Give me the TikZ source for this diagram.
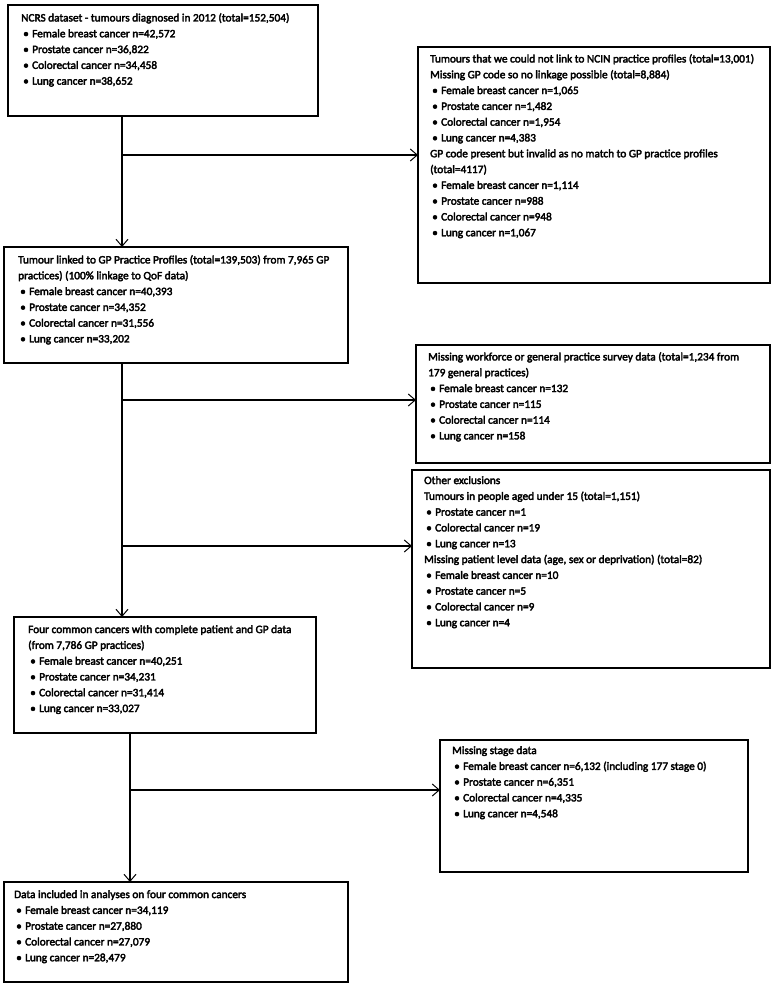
\documentclass[tikz,border=0pt]{standalone}
\usepackage{fontspec}
\setmainfont{Carlito}[FakeBold=3]
\usetikzlibrary{arrows.meta,calc}
\newcommand\bl{\hspace*{2pt}\makebox[9pt][l]{\textbullet}}
\begin{document}
\begin{tikzpicture}[x=1pt,y=-1pt,
  box/.style={draw,line width=1.2pt,anchor=north west,inner sep=0pt,outer sep=0pt},
  txt/.style={anchor=north west,inner sep=0pt,align=left,font=\fontsize{11.3}{15.8}\selectfont},
  flow/.style={line width=1.1pt,-{Straight Barb[length=7pt,width=12pt,line width=1pt]}}]
\useasboundingbox (0,0) rectangle (776,992);

% boxes
\node[box,minimum width=310pt,minimum height=111pt] (b1) at (8,5) {};
\node[box,minimum width=352pt,minimum height=236pt] (b3) at (418,47) {};
\node[box,minimum width=344pt,minimum height=116pt] (b2) at (4,247) {};
\node[box,minimum width=354pt,minimum height=118pt] (bmw) at (416,345) {};
\node[box,minimum width=358pt,minimum height=198pt] (both) at (412,470) {};
\node[box,minimum width=302pt,minimum height=116pt] (b4) at (14,617) {};
\node[box,minimum width=308pt,minimum height=132pt] (bst) at (440,740) {};
\node[box,minimum width=344pt,minimum height=100pt] (b6) at (4,882) {};

% texts
\node[txt] (t1) at ($(b1.north west)+(13,8)$) {NCRS dataset - tumours diagnosed in 2012 (total=152,504)\\
\bl Female breast cancer n=42,572\\
\bl Prostate cancer n=36,822\\
\bl Colorectal cancer n=34,458\\
\bl Lung cancer n=38,652};

\node[txt] (t3) at ($(b3.north west)+(12,7)$) {Tumours that we could not link to NCIN practice profiles (total=13,001)\\
Missing GP code so no linkage possible (total=8,884)\\
\bl Female breast cancer n=1,065\\
\bl Prostate cancer n=1,482\\
\bl Colorectal cancer n=1,954\\
\bl Lung cancer n=4,383\\
GP code present but invalid as no match to GP practice profiles\\
(total=4117)\\
\bl Female breast cancer n=1,114\\
\bl Prostate cancer n=988\\
\bl Colorectal cancer n=948\\
\bl Lung cancer n=1,067};

\node[txt] (t2) at ($(b2.north west)+(14,8)$) {Tumour linked to GP Practice Profiles (total=139,503) from 7,965 GP\\
practices) (100\% linkage to QoF data)\\
\bl Female breast cancer n=40,393\\
\bl Prostate cancer n=34,352\\
\bl Colorectal cancer n=31,556\\
\bl Lung cancer n=33,202};

\node[txt] (tmw) at ($(bmw.north west)+(12,7)$) {Missing workforce or general practice survey data (total=1,234 from\\
179 general practices)\\
\bl Female breast cancer n=132\\
\bl Prostate cancer n=115\\
\bl Colorectal cancer n=114\\
\bl Lung cancer n=158};

\node[txt] (toth) at ($(both.north west)+(12,6)$) {Other exclusions\\
Tumours in people aged under 15 (total=1,151)\\
\bl Prostate cancer n=1\\
\bl Colorectal cancer n=19\\
\bl Lung cancer n=13\\
Missing patient level data (age, sex or deprivation) (total=82)\\
\bl Female breast cancer n=10\\
\bl Prostate cancer n=5\\
\bl Colorectal cancer n=9\\
\bl Lung cancer n=4};

\node[txt] (t4) at ($(b4.north west)+(14,8)$) {Four common cancers with complete patient and GP data\\
(from 7,786 GP practices)\\
\bl Female breast cancer n=40,251\\
\bl Prostate cancer n=34,231\\
\bl Colorectal cancer n=31,414\\
\bl Lung cancer n=33,027};

\node[txt] (tst) at ($(bst.north west)+(12,6)$) {Missing stage data\\
\bl Female breast cancer n=6,132 (including 177 stage 0)\\
\bl Prostate cancer n=6,351\\
\bl Colorectal cancer n=4,335\\
\bl Lung cancer n=4,548};

\node[txt] (t6) at ($(b6.north west)+(10,8)$) {Data included in analyses on four common cancers\\
\bl Female breast cancer n=34,119\\
\bl Prostate cancer n=27,880\\
\bl Colorectal cancer n=27,079\\
\bl Lung cancer n=28,479};

% junctions
\coordinate (j1) at (122,155);
\coordinate (j2) at (122,400);
\coordinate (j3) at (122,546);
\coordinate (j4) at (130,790);

% connectors
\draw[flow] (b1.south -| j1) -- (b2.north -| j1);
\draw[flow] (j1) -- (b3.west |- j1);
\draw[flow] (b2.south -| j2) -- (b4.north -| j2);
\draw[flow] (j2) -- (bmw.west |- j2);
\draw[flow] (j3) -- (both.west |- j3);
\draw[flow] (b4.south -| j4) -- (b6.north -| j4);
\draw[flow] (j4) -- (bst.west |- j4);
\end{tikzpicture}
\end{document}
